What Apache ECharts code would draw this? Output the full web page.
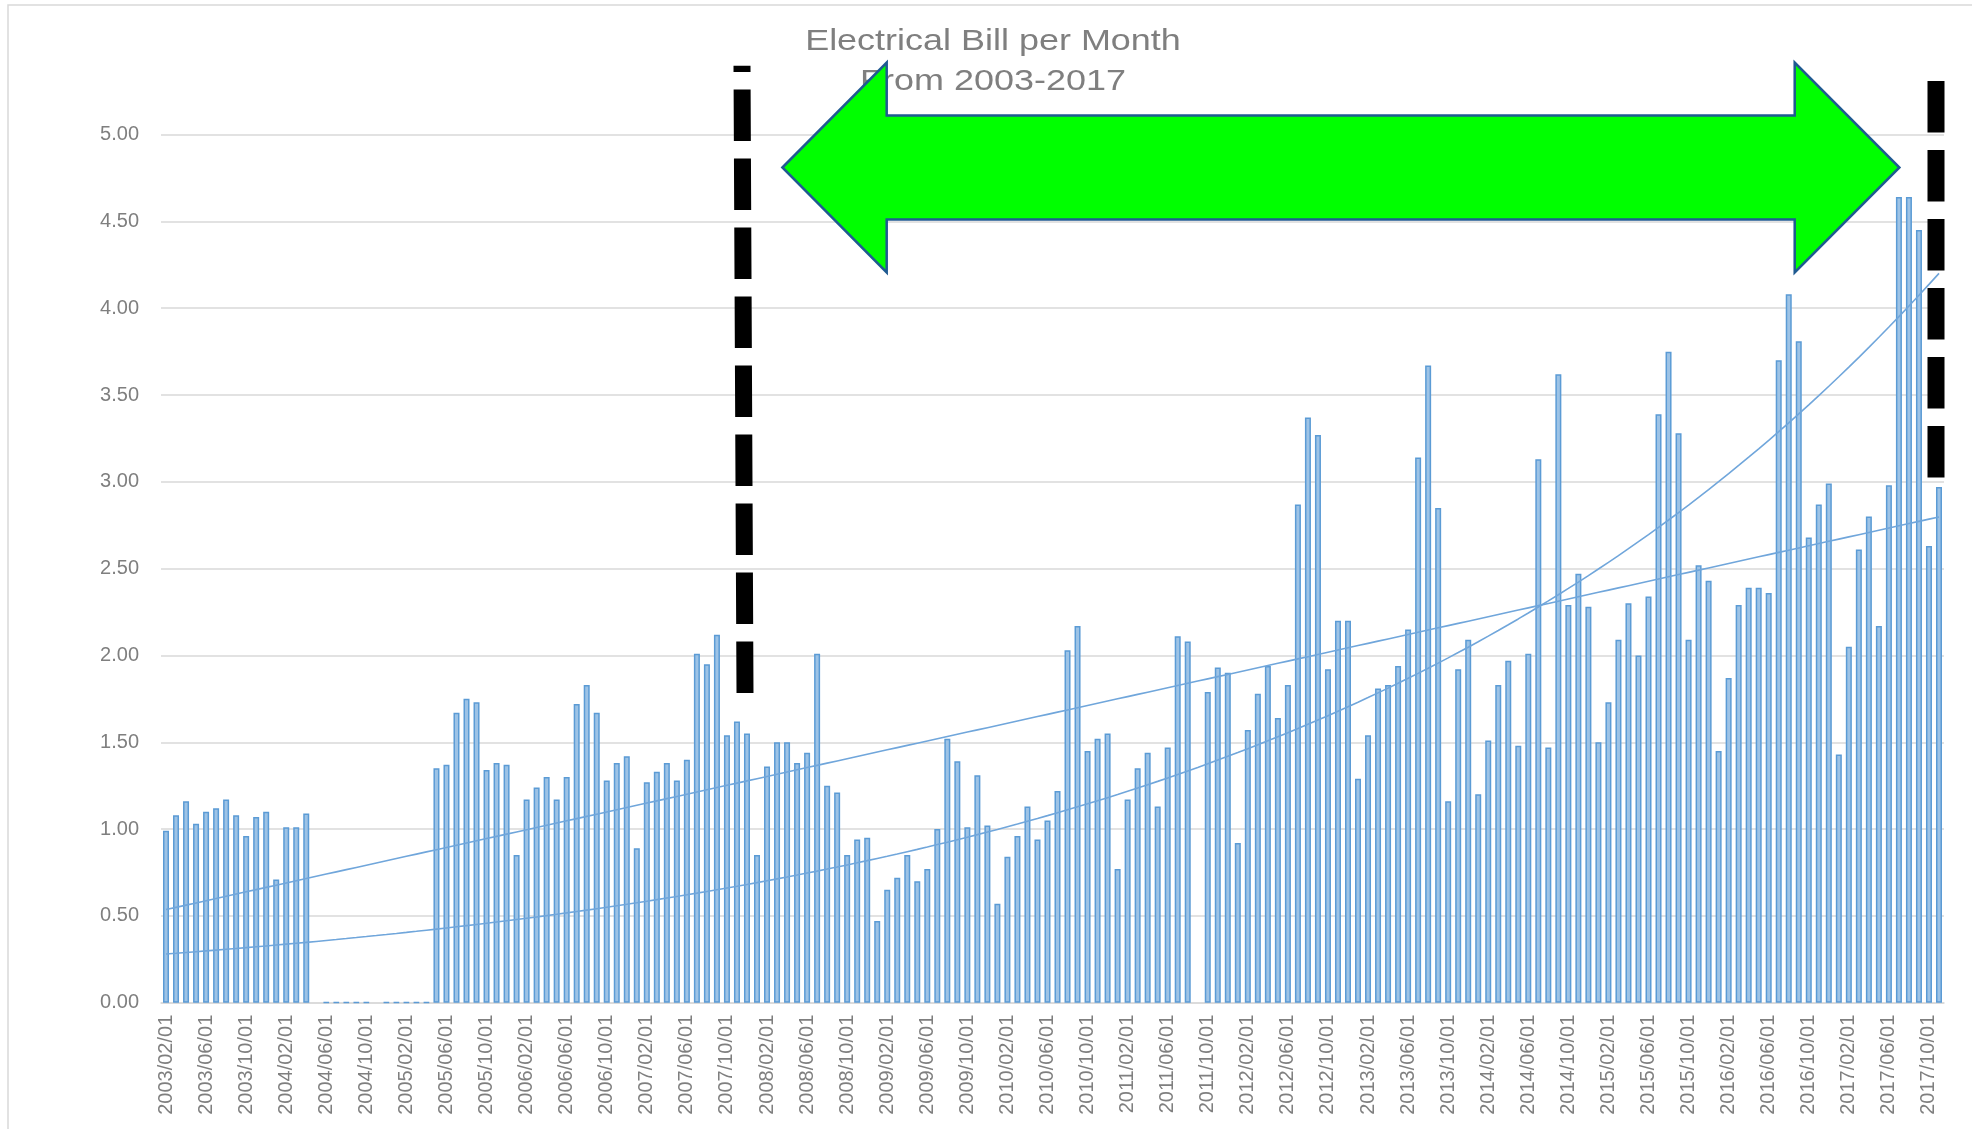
<!DOCTYPE html>
<html>
<head>
<meta charset="utf-8">
<script src="https://cdn.jsdelivr.net/npm/echarts@6/dist/echarts.min.js"></script>
<style>
  html, body { margin: 0; padding: 0; background: #fff; }
  #chart { width: 1972px; height: 1129px; }
</style>
</head>
<body>
<div id="chart"></div>
<script>
// monthly categories, 2003/02 .. 2017/11
const startYear = 2003
const startMonth = 2
const monthCount = 178
const months = []
for (let k = 0; k < monthCount; k++) {
  const m = startMonth - 1 + k
  const y = startYear + Math.floor(m / 12)
  const mm = (m % 12) + 1
  months.push(y + '/' + (mm < 10 ? '0' + mm : mm) + '/01')
}

// bill per month (null = no entry, 0.002 = the flat "dash" months)
const bill = [
  0.99, 1.08, 1.16, 1.03, 1.10, 1.12, 1.17, 1.08, 0.96, 1.07, 1.10, 0.71, 1.01, 1.01, 1.09,
  null, 0.002, 0.002, 0.002, 0.002, 0.002, null, 0.002, 0.002, 0.002, 0.002, 0.002,
  1.35, 1.37, 1.67, 1.75, 1.73, 1.34, 1.38, 1.37, 0.85, 1.17, 1.24,
  1.30, 1.17, 1.30, 1.72, 1.83, 1.67, 1.28, 1.38, 1.42, 0.89, 1.27, 1.33, 1.38, 1.28, 1.40,
  2.01, 1.95, 2.12, 1.54, 1.62, 1.55, 0.85, 1.36, 1.50, 1.50, 1.38, 1.44, 2.01,
  1.25, 1.21, 0.85, 0.94, 0.95, 0.47, 0.65, 0.72, 0.85, 0.70, 0.77, 1.00, 1.52, 1.39,
  1.01, 1.31, 1.02, 0.57, 0.84, 0.96, 1.13, 0.94, 1.05, 1.22, 2.03, 2.17, 1.45, 1.52,
  1.55, 0.77, 1.17, 1.35, 1.44, 1.13, 1.47, 2.11, 2.08,
  null,
  1.79, 1.93, 1.90, 0.92, 1.57, 1.78, 1.94, 1.64, 1.83, 2.87, 3.37, 3.27, 1.92, 2.20, 2.20, 1.29, 1.54, 1.81,
  1.83, 1.94, 2.15, 3.14, 3.67, 2.85, 1.16, 1.92, 2.09, 1.20, 1.51, 1.83, 1.97, 1.48,
  2.01, 3.13, 1.47, 3.62, 2.29, 2.47, 2.28, 1.50, 1.73, 2.09, 2.30, 2.00, 2.34, 3.39,
  3.75, 3.28, 2.09, 2.52, 2.43, 1.45, 1.87, 2.29, 2.39, 2.39, 2.36, 3.70, 4.08, 3.81,
  2.68, 2.87, 2.99, 1.43, 2.05, 2.61, 2.80, 2.17, 2.98, 4.64, 4.64, 4.45, 2.63, 2.97
]

// least squares on (x, y)
function fit(pts) {
  let n = pts.length, sx = 0, sy = 0, sxx = 0, sxy = 0
  pts.forEach(([x, y]) => { sx += x; sy += y; sxx += x * x; sxy += x * y })
  const b = (n * sxy - sx * sy) / (n * sxx - sx * sx)
  return { a: (sy - b * sx) / n, b: b }
}

// trendlines the way excel does them: x = 1..n, blanks skipped
const points = bill.map((v, i) => [i + 1, v]).filter(p => p[1] != null)
const linFit = fit(points)
const expFit = fit(points.filter(p => p[1] > 0).map(p => [p[0], Math.log(p[1])]))
const linTrend = months.map((m, i) => linFit.a + linFit.b * (i + 1))
const expTrend = months.map((m, i) => Math.exp(expFit.a + expFit.b * (i + 1)))

const chart = echarts.init(document.getElementById('chart'))
chart.setOption({
  animation: false,
  backgroundColor: '#fff',
  grid: { left: 161, right: 28, top: 134.6, bottom: 126.3 },
  xAxis: {
    type: 'category',
    data: months,
    axisLine: { lineStyle: { color: '#d9d9d9', width: 1.5 } },
    axisTick: { interval: 3, length: 6, lineStyle: { color: '#d9d9d9', width: 1.5 } },
    axisLabel: {
      interval: 3,
      rotate: 90,
      margin: 12,
      color: '#7f7f7f',
      fontSize: 20,
      fontFamily: 'Liberation Sans, Arial, sans-serif'
    }
  },
  yAxis: {
    type: 'value',
    min: 0,
    max: 5,
    interval: 0.5,
    axisLine: { show: false },
    axisTick: { show: false },
    splitLine: { lineStyle: { color: '#d9d9d9', width: 1.5 } },
    axisLabel: {
      margin: 22,
      color: '#7f7f7f',
      fontSize: 20,
      fontFamily: 'Liberation Sans, Arial, sans-serif',
      formatter: v => v.toFixed(2)
    }
  },
  series: [
    {
      name: 'Bill',
      type: 'bar',
      data: bill,
      barWidth: '60%',
      itemStyle: { color: '#9dc3e6', borderColor: '#5b9bd5', borderWidth: 1.5 }
    },
    {
      name: 'Linear trend',
      type: 'line',
      data: linTrend,
      symbol: 'none',
      lineStyle: { color: '#70a6db', width: 1.6 }
    },
    {
      name: 'Exponential trend',
      type: 'line',
      data: expTrend,
      symbol: 'none',
      lineStyle: { color: '#70a6db', width: 1.6 }
    }
  ],
  graphic: [
    {
      type: 'rect',
      silent: true,
      z: 1,
      shape: { x: 8, y: 5, width: 2100, height: 1300 },
      style: { fill: 'none', stroke: '#d9d9d9', lineWidth: 1.5 }
    },
    {
      type: 'text',
      z: 10,
      x: 993, y: 41.5, scaleX: 1.24,
      style: {
        text: 'Electrical Bill per Month', fill: '#7f7f7f', fontSize: 29,
        fontFamily: 'Liberation Sans, Arial, sans-serif', align: 'center', verticalAlign: 'middle'
      }
    },
    {
      type: 'text',
      z: 10,
      x: 993, y: 82, scaleX: 1.24,
      style: {
        text: 'From 2003-2017', fill: '#7f7f7f', fontSize: 29,
        fontFamily: 'Liberation Sans, Arial, sans-serif', align: 'center', verticalAlign: 'middle'
      }
    },
    {
      // green double arrow
      type: 'polygon',
      z: 20,
      shape: {
        points: [[782.4, 167.5], [886.7, 62.5], [886.7, 115.5], [1794.7, 115.5], [1794.7, 62.5],
          [1899.4, 167.5], [1794.7, 272.5], [1794.7, 219.5], [886.7, 219.5], [886.7, 272.5]]
      },
      style: { fill: '#00ff00', stroke: '#1f5a91', lineWidth: 2.5 }
    },
    {
      type: 'line',
      z: 20,
      shape: { x1: 745, y1: 693, x2: 742, y2: 65.7 },
      style: { stroke: '#000', lineWidth: 17, lineDash: [51.5, 17.5] }
    },
    {
      type: 'line',
      z: 20,
      shape: { x1: 1936, y1: 81, x2: 1936, y2: 480 },
      style: { stroke: '#000', lineWidth: 17, lineDash: [51.5, 17.5] }
    }
  ]
})
</script>
</body>
</html>
